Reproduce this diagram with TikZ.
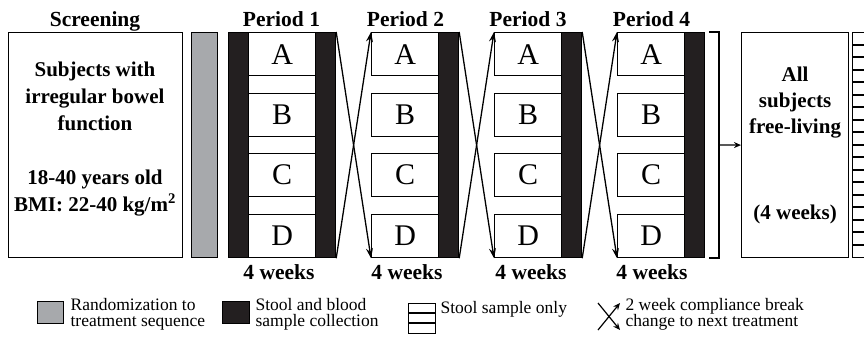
\documentclass[tikz,border=0pt]{standalone}
\usepackage{fontspec}
\setmainfont{Liberation Serif}
\usetikzlibrary{arrows.meta}
\definecolor{barblack}{HTML}{231F20}
\definecolor{randgray}{HTML}{A7A9AC}
\begin{document}
\begin{tikzpicture}[x=1pt,y=-1pt,line width=1.2pt,
  box/.style={draw, inner sep=0pt, anchor=north west},
  trt/.style={box, fill=white, minimum width=67pt, minimum height=43pt, font=\fontsize{30}{30}\selectfont},
  blk/.style={box, fill=barblack, minimum width=20pt, minimum height=225pt},
  hdr/.style={font=\bfseries\fontsize{21.5}{21.5}\selectfont, anchor=base, inner sep=0pt},
  boldtxt/.style={font=\bfseries\fontsize{21}{27}\selectfont, align=center, inner sep=0pt},
  legtxt/.style={font=\fontsize{17.5}{16}\selectfont, align=left, anchor=west, inner sep=0pt},
  arr/.style={-{Stealth[length=10pt,width=7pt,inset=3.5pt]}, line width=1.3pt},
  stripe/.style={line width=2pt}
]
\useasboundingbox (0,0) rectangle (864,338);

% Screening
\node[hdr] (hscr) at (95,26) {Screening};
\node[box, minimum width=174pt, minimum height=225pt] (scr) at (8,32) {};
\node[boldtxt] (scrtxt) at (95,139) {Subjects with\\irregular bowel\\function\\[27pt]18-40 years old\\BMI: 22-40 kg/m\textsuperscript{2}};

% Randomization bar
\node[box, fill=randgray, minimum width=26pt, minimum height=225pt] (rand) at (191,32) {};

% Period 1
\node[hdr] (h1) at (281.5,26) {Period 1};
\node[blk] (b1l) at (228,32) {};
\node[trt] (p1a) at (248,32) {A};
\node[trt] (p1b) at (248,93) {B};
\node[trt] (p1c) at (248,153) {C};
\node[trt] (p1d) at (248,214) {D};
\node[blk] (b1) at (315,32) {};
\node[hdr] (w1) at (279,279) {4 weeks};

% Period 2
\node[hdr] (h2) at (405.5,26) {Period 2};
\node[trt] (p2a) at (371,32) {A};
\node[trt] (p2b) at (371,93) {B};
\node[trt] (p2c) at (371,153) {C};
\node[trt] (p2d) at (371,214) {D};
\node[blk] (b2) at (438,32) {};
\node[hdr] (w2) at (407,279) {4 weeks};

% Period 3
\node[hdr] (h3) at (528,26) {Period 3};
\node[trt] (p3a) at (494,32) {A};
\node[trt] (p3b) at (494,93) {B};
\node[trt] (p3c) at (494,153) {C};
\node[trt] (p3d) at (494,214) {D};
\node[blk] (b3) at (561,32) {};
\node[hdr] (w3) at (531,279) {4 weeks};

% Period 4
\node[hdr] (h4) at (651.5,26) {Period 4};
\node[trt] (p4a) at (617,32) {A};
\node[trt] (p4b) at (617,93) {B};
\node[trt] (p4c) at (617,153) {C};
\node[trt] (p4d) at (617,214) {D};
\node[blk] (b4) at (684,32) {};
\node[hdr] (w4) at (652,279) {4 weeks};

% crossover arrows
\draw[arr] (b1.north east) -- (p2d.south west);
\draw[arr] (b1.south east) -- (p2a.north west);
\draw[arr] (b2.north east) -- (p3d.south west);
\draw[arr] (b2.south east) -- (p3a.north west);
\draw[arr] (b3.north east) -- (p4d.south west);
\draw[arr] (b3.south east) -- (p4a.north west);

% bracket
\coordinate (brt) at (709,32);
\coordinate (brb) at (709,258);
\coordinate (brm) at (719,145);
\draw (brt) -- (719,32) -- (719,258) -- (brb);

% free-living
\node[box, minimum width=107pt, minimum height=225pt] (free) at (741,32) {};
\node[boldtxt, font=\bfseries\fontsize{21}{26}\selectfont] (freetxt) at (free.center) {All\\subjects\\free-living\\[60pt](4 weeks)};
\draw[-{Stealth[length=7pt,width=6pt]}, line width=1.2pt] (brm) -- (free.west);

% stool only box (cut at right edge)
\node[box, minimum width=20pt, minimum height=225pt] (stool) at (852,32) {};
\foreach \k in {1,...,17} {
  \draw[stripe] (852,32+\k*12.5) -- (872,32+\k*12.5);
}

% Legend
\node[box, fill=randgray, minimum width=26pt, minimum height=22pt] (lg1) at (37,301) {};
\node[legtxt] (lt1) at (70,314) {Randomization to\\treatment sequence};
\node[box, fill=barblack, minimum width=27pt, minimum height=22pt] (lg2) at (222,301) {};
\node[legtxt] (lt2) at (255,314) {Stool and blood\\sample collection};
\node[box, minimum width=27pt, minimum height=30pt] (lg3) at (408,303) {};
\draw[line width=2.6pt] (lg3.west |- 0,313) -- (lg3.east |- 0,313);
\draw[line width=2.6pt] (lg3.west |- 0,323) -- (lg3.east |- 0,323);
\node[legtxt] (lt3) at (440,309) {Stool sample only};
\coordinate (x1s) at (598,303);
\coordinate (x1e) at (620,330);
\coordinate (x2s) at (598,330);
\coordinate (x2e) at (620,303);
\draw[-{Stealth[length=7pt,width=6pt,inset=2.5pt]}, line width=1.2pt] (x1s) -- (x1e);
\draw[-{Stealth[length=7pt,width=6pt,inset=2.5pt]}, line width=1.2pt] (x2s) -- (x2e);
\node[legtxt] (lt4) at (625,314) {2 week compliance break\\change to next treatment};
\end{tikzpicture}
\end{document}
